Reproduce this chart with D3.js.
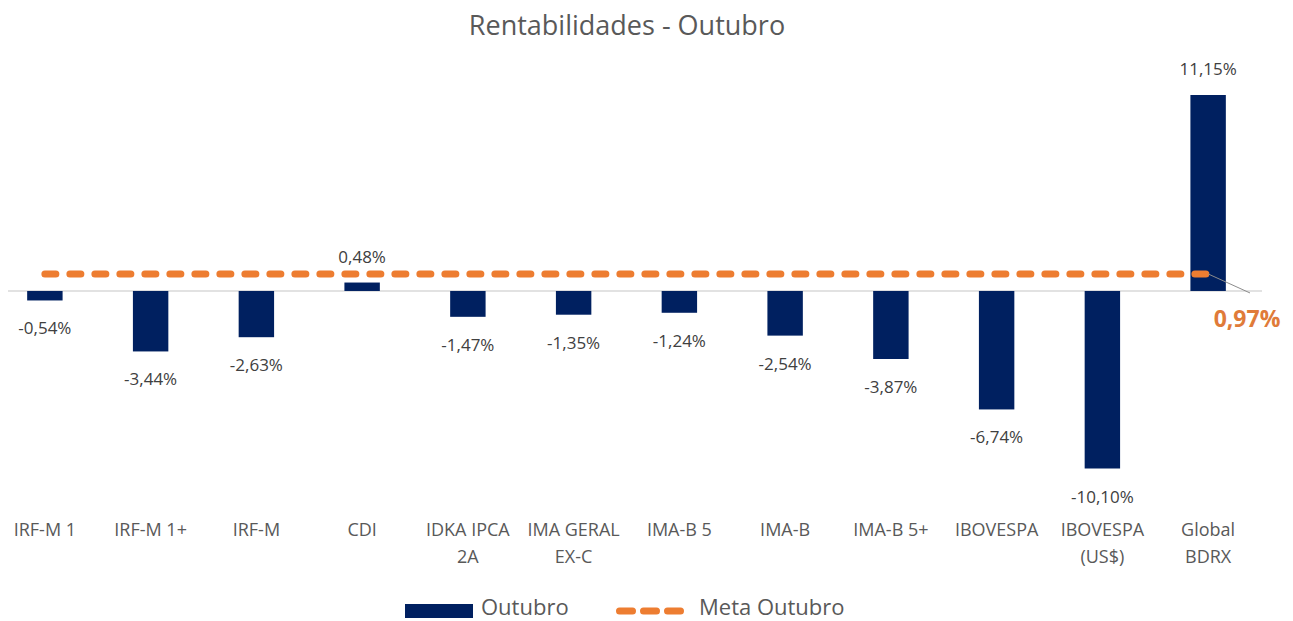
<!DOCTYPE html>
<html>
<head>
<meta charset="utf-8">
<script src="https://cdn.jsdelivr.net/npm/d3@7"></script>
<style>
  body { margin: 0; background: #fff; }
  text { font-family: "Open Sans", sans-serif; }
</style>
</head>
<body>
<div id="chart"></div>
<script>
// data
const categories = [["IRF-M 1"], ["IRF-M 1+"], ["IRF-M"], ["CDI"], ["IDKA IPCA", "2A"], ["IMA GERAL", "EX-C"],
  ["IMA-B 5"], ["IMA-B"], ["IMA-B 5+"], ["IBOVESPA"], ["IBOVESPA", "(US$)"], ["Global", "BDRX"]];
const outubro = [-0.54, -3.44, -2.63, 0.48, -1.47, -1.35, -1.24, -2.54, -3.87, -6.74, -10.10, 11.15];
const meta = 0.97;

const width = 1293, height = 621;
const fmt = v => d3.format(".2f")(v).replace(".", ",").replace("\u2212", "-") + "%";

let svg = d3.select("#chart").append("svg")
    .attr("width", width)
    .attr("height", height);

svg.append("text")
    .attr("x", 627).attr("y", 35)
    .attr("text-anchor", "middle")
    .style("font-size", "27px")
    .style("fill", "#595959")
    .text("Rentabilidades - Outubro");

let keys = categories.map((c, i) => i);
let x = d3.scaleBand().domain(keys).range([-8, 1261]).paddingInner(0.665).paddingOuter(0.3325);
let y = d3.scaleLinear().domain([-10.10, 11.15]).range([468.5, 95]);

// zero line
svg.append("line")
    .attr("x1", 8).attr("x2", 1262)
    .attr("y1", y(0)).attr("y2", y(0))
    .attr("stroke", "#d9d9d9").attr("stroke-width", 1.5);

// bars
svg.selectAll("rect.bar")
    .data(outubro)
    .join("rect")
    .attr("class", "bar")
    .attr("x", (d, i) => x(i))
    .attr("width", x.bandwidth())
    .attr("y", d => y(Math.max(0, d)))
    .attr("height", d => Math.abs(y(d) - y(0)))
    .attr("fill", "#002060");

// value labels
svg.selectAll("text.val")
    .data(outubro)
    .join("text")
    .attr("class", "val")
    .attr("x", (d, i) => x(i) + x.bandwidth() / 2)
    .attr("y", d => d >= 0 ? y(d) - 20 : y(d) + 34)
    .attr("text-anchor", "middle")
    .style("font-size", "17px")
    .style("fill", "#404040")
    .text(d => fmt(d));

// category labels
let cat = svg.selectAll("text.cat")
    .data(categories)
    .join("text")
    .attr("class", "cat")
    .attr("text-anchor", "middle")
    .style("font-size", "18px")
    .style("fill", "#595959");
cat.selectAll("tspan")
    .data((d, i) => d.map(t => ({ t: t, i: i })))
    .join("tspan")
    .attr("x", d => x(d.i) + x.bandwidth() / 2)
    .attr("y", (d, j) => 536 + j * 27)
    .text(d => d.t);

// meta line
let x0 = x(0) + x.bandwidth() / 2, x1 = x(11) + x.bandwidth() / 2;
svg.append("line")
    .attr("x1", x0).attr("x2", x1)
    .attr("y1", y(meta)).attr("y2", y(meta))
    .attr("stroke", "#ed7d31")
    .attr("stroke-width", 7)
    .attr("stroke-linecap", "round")
    .attr("stroke-dasharray", "11,14");

// leader + meta label
svg.append("line")
    .attr("x1", x1).attr("y1", y(meta))
    .attr("x2", 1250).attr("y2", y(0) + 2)
    .attr("stroke", "#8c8c8c").attr("stroke-width", 1);
svg.append("text")
    .attr("x", 1247).attr("y", 327)
    .attr("text-anchor", "middle")
    .style("font-size", "23px")
    .style("font-weight", "bold")
    .style("fill", "#e07b39")
    .text(fmt(meta));

// legend
svg.append("rect")
    .attr("x", 405).attr("y", 604)
    .attr("width", 68).attr("height", 14)
    .attr("fill", "#002060");
svg.append("text")
    .attr("x", 481).attr("y", 615)
    .style("font-size", "22px").style("fill", "#595959")
    .text("Outubro");
svg.append("line")
    .attr("x1", 619.5).attr("x2", 682.5)
    .attr("y1", 611).attr("y2", 611)
    .attr("stroke", "#ed7d31")
    .attr("stroke-width", 7)
    .attr("stroke-linecap", "round")
    .attr("stroke-dasharray", "13,11");
svg.append("text")
    .attr("x", 699).attr("y", 615)
    .style("font-size", "22px").style("fill", "#595959")
    .text("Meta Outubro");
</script>
</body>
</html>
